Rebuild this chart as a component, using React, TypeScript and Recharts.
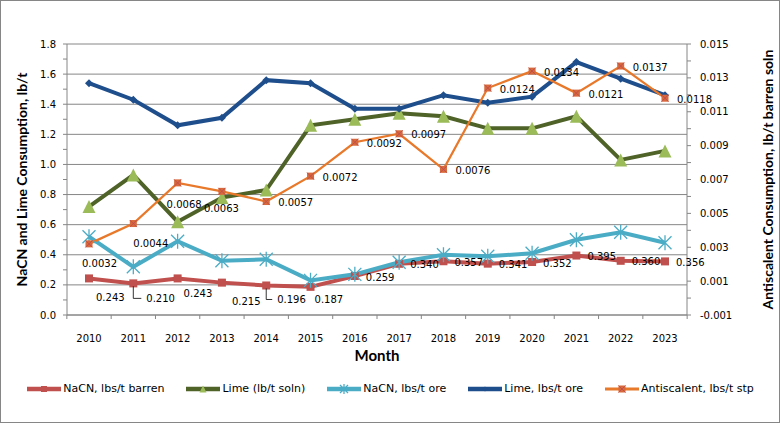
import React from "react";
import { LineChart, Line, XAxis, YAxis, CartesianGrid, LabelList, Label } from "recharts";

const years = ["2010", "2011", "2012", "2013", "2014", "2015", "2016", "2017", "2018", "2019", "2020", "2021", "2022", "2023"];
const nacnBarren = [0.243, 0.21, 0.243, 0.215, 0.196, 0.187, 0.259, 0.34, 0.357, 0.341, 0.352, 0.395, 0.36, 0.356];
const limeSoln = [0.72, 0.93, 0.62, 0.78, 0.83, 1.26, 1.3, 1.34, 1.32, 1.24, 1.24, 1.32, 1.03, 1.09];
const nacnOre = [0.52, 0.32, 0.49, 0.36, 0.37, 0.23, 0.27, 0.35, 0.4, 0.39, 0.41, 0.5, 0.55, 0.48];
const limeOre = [1.54, 1.43, 1.26, 1.31, 1.56, 1.54, 1.37, 1.37, 1.46, 1.41, 1.45, 1.68, 1.57, 1.46];
const antiscalent = [0.0032, 0.0044, 0.0068, 0.0063, 0.0057, 0.0072, 0.0092, 0.0097, 0.0076, 0.0124, 0.0134, 0.0121, 0.0137, 0.0118];

const leftTicks = [0, 0.1, 0.2, 0.3, 0.4, 0.5, 0.6, 0.7, 0.8, 0.9, 1.0, 1.1, 1.2, 1.3, 1.4, 1.5, 1.6, 1.7, 1.8];
const leftGrid = [0, 0.2, 0.4, 0.6, 0.8, 1.0, 1.2, 1.4, 1.6, 1.8];
const rightTicks = [-0.001, 0, 0.001, 0.002, 0.003, 0.004, 0.005, 0.006, 0.007, 0.008, 0.009, 0.01, 0.011, 0.012, 0.013, 0.014, 0.015];

// label placement, [dx to text start, dy to text middle] from the point
const barrenLabelOffsets = [[7, 19], [13, 15], [6, 15], [10, 19], [11, 14], [4, 13], [11, 1], [11, 1], [11, 1], [11, 1], [11, 1], [11, 1], [11, 1], [11, 1]];
const barrenLeaders = [1, 4];
const antiLabelOffsets = [[-7, 20], [0, 20], [-11, 22], [-18, 17], [12, 1], [12, 1], [12, 1], [12, 1], [12, 1], [12, 1], [12, 1], [12, 1], [12, 1], [12, 1]];

const data = years.map((year, i) => ({
  year,
  nacnBarren: nacnBarren[i],
  limeSoln: limeSoln[i],
  nacnOre: nacnOre[i],
  limeOre: limeOre[i],
  antiscalent: antiscalent[i],
}));

const FONT = "DejaVu Sans";
const AXIS = "#868686";
const RED = "#C0504D";
const GREEN = "#4F6228";
const GREEN_LT = "#9BBB59";
const CYAN = "#4BACC6";
const NAVY = "#1F4E8C";
const ORANGE = "#E8782A";

function SquareMark({ cx, cy, s = 8 }: any) {
  return <rect x={cx - s / 2} y={cy - s / 2} width={s} height={s} fill={RED} />;
}
function TriangleMark({ cx, cy, s = 13 }: any) {
  const h = s;
  return (
    <path
      d={`M${cx},${cy - h / 2} L${cx + s / 2},${cy + h / 2} L${cx - s / 2},${cy + h / 2} Z`}
      fill={GREEN_LT}
    />
  );
}
function StarMark({ cx, cy, s = 6.5 }: any) {
  return (
    <path
      d={`M${cx - s},${cy - s} L${cx + s},${cy + s} M${cx - s},${cy + s} L${cx + s},${cy - s} M${cx},${cy - s - 1} L${cx},${cy + s + 1}`}
      stroke={CYAN}
      strokeWidth={1.3}
      fill="none"
    />
  );
}
function DiamondMark({ cx, cy, s = 4 }: any) {
  return <path d={`M${cx},${cy - s} L${cx + s},${cy} L${cx},${cy + s} L${cx - s},${cy} Z`} fill={NAVY} />;
}
function XSquareMark({ cx, cy, s = 7 }: any) {
  const h = s / 2;
  return (
    <g>
      <rect x={cx - h} y={cy - h} width={s} height={s} fill="#D8693A" />
      <path d={`M${cx - h},${cy - h} L${cx + h},${cy + h} M${cx - h},${cy + h} L${cx + h},${cy - h}`} stroke={RED} strokeWidth={1} />
    </g>
  );
}

const dotOf = (Mark: any) => (p: any) => <Mark key={`m-${p.index}`} cx={p.cx} cy={p.cy} />;

const XTick = (p: any) => {
  const half = p.width && p.visibleTicksCount ? p.width / p.visibleTicksCount / 2 : 22.15;
  const axisY = 315;
  return (
    <g>
      <line x1={p.x - half} y1={axisY} x2={p.x - half} y2={axisY + 4} stroke={AXIS} />
      {p.index === p.visibleTicksCount - 1 && (
        <line x1={p.x + half} y1={axisY} x2={p.x + half} y2={axisY + 4} stroke={AXIS} />
      )}
      <text x={p.x} y={p.y + 19} textAnchor="middle" fontSize={10} fontFamily={FONT} fill="#000">
        {p.payload.value}
      </text>
    </g>
  );
};

const LeftTick = (p: any) => {
  const v = p.payload.value;
  if (Math.round(v * 10) % 2 !== 0) return <g />;
  return (
    <text x={p.x} y={p.y} dy={3.6} textAnchor="end" fontSize={10} fontFamily={FONT} fill="#000">
      {v.toFixed(1)}
    </text>
  );
};

const RightTick = (p: any) => {
  const v = p.payload.value;
  if (Math.abs(Math.round(v * 1000)) % 2 !== 1) return <g />;
  return (
    <text x={p.x} y={p.y} dy={3.6} textAnchor="start" fontSize={10} fontFamily={FONT} fill="#000">
      {v.toFixed(3)}
    </text>
  );
};

const makeLabel = (offsets: number[][], digits: number, leaders: number[]) => (p: any) => {
  const i = p.index;
  if (i === undefined || p.value === undefined) return null;
  const [dx, dy] = offsets[i];
  const lx = p.x + dx;
  const ly = p.y + dy;
  return (
    <g key={`l-${i}`}>
      {leaders.includes(i) && (
        <path d={`M${p.x},${p.y + 3} L${p.x},${ly} L${lx - 5},${ly}`} stroke="#000" strokeWidth={0.8} fill="none" />
      )}
      <text x={lx} y={ly} dy={3.6} fontSize={10} fontFamily={FONT} fill="#000">
        {Number(p.value).toFixed(digits)}
      </text>
    </g>
  );
};

const axisTitle = (text: string, dx: number) => (p: any) => {
  const vb = p.viewBox;
  const cx = vb.x + dx;
  const cy = vb.y + vb.height / 2;
  return (
    <text
      x={cx}
      y={cy}
      textAnchor="middle"
      dominantBaseline="central"
      transform={`rotate(-90, ${cx}, ${cy})`}
      fontSize={14}
      fontWeight="bold"
      fontFamily="Lato"
      fill="#000"
    >
      {text}
    </text>
  );
};

const legendItems = [
  { name: "NaCN, lbs/t barren", color: RED, Mark: SquareMark, s: 6, width: 4.5 },
  { name: "Lime (lb/t soln)", color: GREEN, Mark: TriangleMark, s: 7, width: 4.5 },
  { name: "NaCN, lbs/t ore", color: CYAN, Mark: StarMark, s: 4, width: 4.5 },
  { name: "Lime, lbs/t ore", color: NAVY, Mark: DiamondMark, s: 2.5, width: 4.5 },
  { name: "Antiscalent, lbs/t stp", color: ORANGE, Mark: XSquareMark, s: 7, width: 3 },
];

export default function App() {
  return (
    <div style={{ position: "absolute", left: 0, top: 0, width: 780, height: 423, background: "#fff" }}>
      <LineChart
        width={780}
        height={423}
        data={data}
        margin={{ top: 44, right: 0, bottom: 0, left: 0 }}
        style={{ fontFamily: FONT }}
      >
        <CartesianGrid yAxisId="left" vertical={false} horizontalValues={leftGrid} stroke={AXIS} strokeWidth={1} />
        <XAxis
          dataKey="year"
          height={108}
          padding={{ left: 22, right: 22 }}
          interval={0}
          tickLine={false}
          axisLine={{ stroke: AXIS }}
          tick={<XTick />}
        >
          <Label
            content={(p: any) => (
              <text
                x={p.viewBox.x + p.viewBox.width / 2}
                y={p.viewBox.y + 46}
                textAnchor="middle"
                fontSize={15}
                fontWeight="bold"
                fontFamily="Lato"
                fill="#000"
              >
                Month
              </text>
            )}
          />
        </XAxis>
        <YAxis
          yAxisId="left"
          width={67}
          domain={[0, 1.8]}
          ticks={leftTicks}
          interval={0}
          tickSize={4}
          tickMargin={7}
          tickLine={{ stroke: AXIS }}
          axisLine={{ stroke: AXIS }}
          tick={<LeftTick />}
        >
          <Label content={axisTitle("NaCN and Lime Consumption, lb/t", 21)} />
        </YAxis>
        <YAxis
          yAxisId="right"
          orientation="right"
          width={93}
          domain={[-0.001, 0.015]}
          ticks={rightTicks}
          interval={0}
          tickSize={4}
          tickMargin={9}
          tickLine={{ stroke: AXIS }}
          axisLine={{ stroke: AXIS }}
          tick={<RightTick />}
        >
          <Label content={axisTitle("Antiscalent Consumption, lb/t barren soln", 80)} />
        </YAxis>

        <Line
          yAxisId="left"
          dataKey="nacnBarren"
          stroke={RED}
          strokeWidth={4}
          dot={dotOf(SquareMark)}
          activeDot={false}
          isAnimationActive={false}
        >
          <LabelList dataKey="nacnBarren" content={makeLabel(barrenLabelOffsets, 3, barrenLeaders)} />
        </Line>
        <Line
          yAxisId="left"
          dataKey="limeSoln"
          stroke={GREEN}
          strokeWidth={4}
          dot={dotOf(TriangleMark)}
          activeDot={false}
          isAnimationActive={false}
        />
        <Line
          yAxisId="left"
          dataKey="nacnOre"
          stroke={CYAN}
          strokeWidth={4}
          dot={dotOf(StarMark)}
          activeDot={false}
          isAnimationActive={false}
        />
        <Line
          yAxisId="left"
          dataKey="limeOre"
          stroke={NAVY}
          strokeWidth={4}
          dot={dotOf(DiamondMark)}
          activeDot={false}
          isAnimationActive={false}
        />
        <Line
          yAxisId="right"
          dataKey="antiscalent"
          stroke={ORANGE}
          strokeWidth={2.25}
          dot={dotOf(XSquareMark)}
          activeDot={false}
          isAnimationActive={false}
        >
          <LabelList dataKey="antiscalent" content={makeLabel(antiLabelOffsets, 4, [])} />
        </Line>
      </LineChart>

      <div
        style={{
          position: "absolute",
          left: 0,
          top: 381,
          width: 780,
          display: "flex",
          justifyContent: "center",
          gap: 21,
          fontFamily: FONT,
          fontSize: 11,
          lineHeight: "16px",
          color: "#000",
        }}
      >
        {legendItems.map((it) => (
          <div key={it.name} style={{ display: "flex", alignItems: "center" }}>
            <svg width={36} height={16}>
              <line x1={1} y1={8} x2={35} y2={8} stroke={it.color} strokeWidth={it.width} />
              <it.Mark cx={18} cy={8} s={it.s} />
            </svg>
            <span style={{ marginLeft: 1 }}>{it.name}</span>
          </div>
        ))}
      </div>
      <div
        style={{
          position: "absolute",
          left: 0,
          top: 0,
          width: 780,
          height: 423,
          boxSizing: "border-box",
          border: `1px solid ${AXIS}`,
          pointerEvents: "none",
        }}
      />
    </div>
  );
}
